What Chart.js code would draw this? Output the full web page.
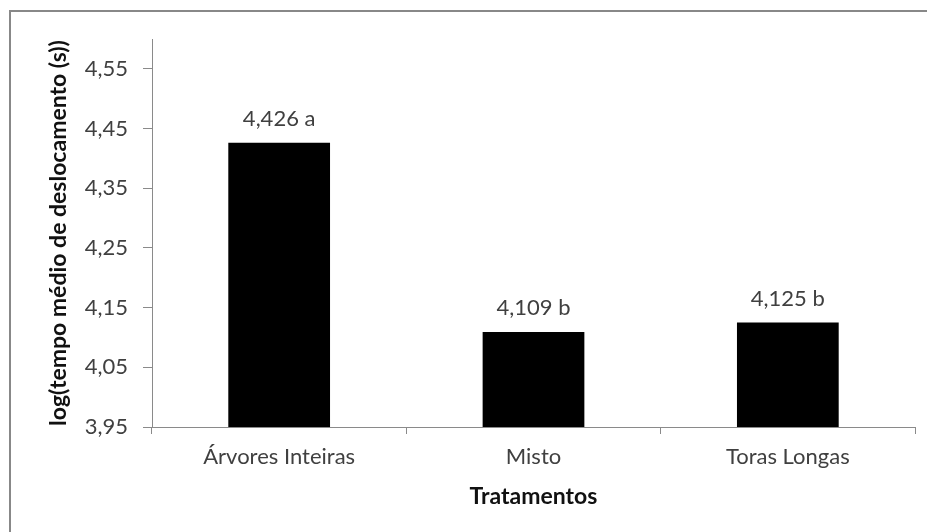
<!DOCTYPE html>
<html>
<head>
<meta charset="utf-8">
<script src="https://cdn.jsdelivr.net/npm/chart.js@4"></script>
<style>
  html, body { margin: 0; padding: 0; background: #fff; }
  canvas { display: block; }
</style>
</head>
<body>
<canvas id="grafico" width="927" height="532"></canvas>
<script>
// dados do gráfico
const tratamentos = ['Árvores Inteiras', 'Misto', 'Toras Longas'];
const logTempo = [4.426, 4.109, 4.125];
const letras = ['a', 'b', 'b'];
const ticksY = [3.95, 4.05, 4.15, 4.25, 4.35, 4.45, 4.55];

const fonte = "'Lato', sans-serif";
const cinzaEixo = '#8a8a8a';
const cinzaTexto = '#404040';

function virgula(v, casas) {
    return v.toFixed(casas).replace('.', ',');
}

// moldura externa (só esquerda e topo aparecem no recorte)
const moldura = {
    id: 'moldura',
    beforeDraw(chart) {
        const ctx = chart.ctx;
        ctx.save();
        ctx.fillStyle = '#fff';
        ctx.fillRect(0, 0, chart.width, chart.height);
        ctx.strokeStyle = '#888';
        ctx.lineWidth = 2;
        ctx.beginPath();
        ctx.moveTo(10, chart.height);
        ctx.lineTo(10, 11);
        ctx.lineTo(chart.width, 11);
        ctx.stroke();
        ctx.restore();
    }
};

// rótulos acima das barras: valor + letra do teste
const rotulos = {
    id: 'rotulos',
    afterDatasetsDraw(chart) {
        const ctx = chart.ctx;
        const meta = chart.getDatasetMeta(0);
        ctx.save();
        ctx.font = '22px ' + fonte;
        ctx.fillStyle = cinzaTexto;
        ctx.textAlign = 'center';
        ctx.textBaseline = 'middle';
        meta.data.forEach(function (barra, i) {
            ctx.fillText(virgula(logTempo[i], 3) + ' ' + letras[i], barra.x, barra.y - 24);
        });
        ctx.restore();
    }
};

new Chart(document.getElementById('grafico'), {
    type: 'bar',
    data: {
        labels: tratamentos,
        datasets: [{
            data: logTempo,
            backgroundColor: '#000',
            borderWidth: 0,
            categoryPercentage: 1,
            barPercentage: 0.4
        }]
    },
    options: {
        responsive: false,
        animation: false,
        layout: { padding: { left: 10, top: 39, right: 12, bottom: 0 } },
        plugins: {
            legend: { display: false },
            tooltip: { enabled: false }
        },
        scales: {
            x: {
                afterFit(scale) { scale.height = 105; },
                grid: {
                    drawOnChartArea: false,
                    drawTicks: true,
                    tickLength: 7,
                    color: cinzaEixo
                },
                border: { color: cinzaEixo },
                ticks: {
                    color: cinzaTexto,
                    font: { family: fonte, size: 22 },
                    padding: 10
                },
                title: {
                    display: true,
                    text: 'Tratamentos',
                    color: '#111',
                    font: { family: fonte, size: 23, weight: 'bold' },
                    padding: { top: 0, bottom: 22 }
                }
            },
            y: {
                min: 3.95,
                max: 4.6,
                afterFit(scale) { scale.width = 142; },
                afterBuildTicks(scale) {
                    scale.ticks = ticksY.map(function (v) { return { value: v }; });
                },
                grid: {
                    drawOnChartArea: false,
                    drawTicks: true,
                    tickLength: 9,
                    color: cinzaEixo
                },
                border: { color: cinzaEixo },
                ticks: {
                    color: cinzaTexto,
                    font: { family: fonte, size: 22 },
                    padding: 15,
                    callback: function (v) { return virgula(v, 2); }
                },
                title: {
                    display: true,
                    text: 'log(tempo médio de deslocamento (s))',
                    color: '#111',
                    font: { family: fonte, size: 23, weight: 'bold' },
                    padding: { top: 35, bottom: 0 }
                }
            }
        }
    },
    plugins: [moldura, rotulos]
});
</script>
</body>
</html>
